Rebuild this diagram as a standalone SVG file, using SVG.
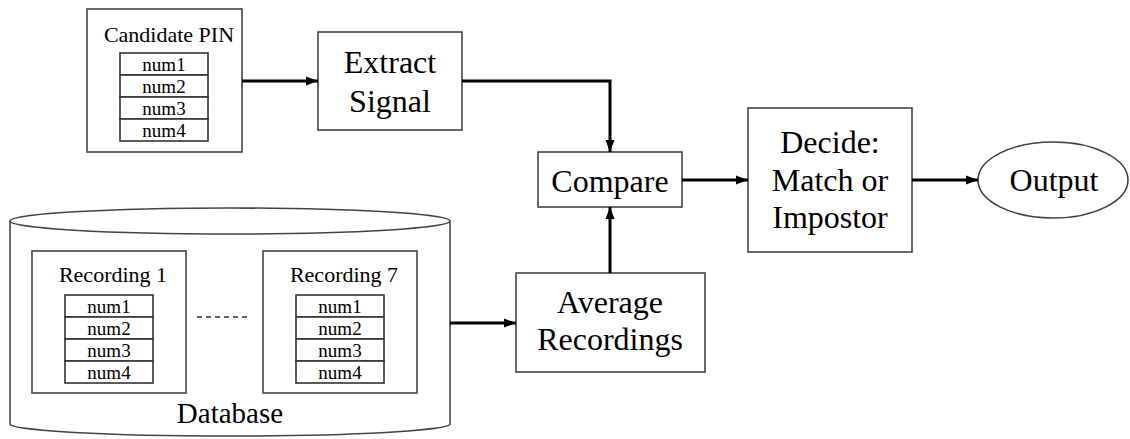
<svg xmlns="http://www.w3.org/2000/svg" width="1130" height="439" viewBox="0 0 1130 439">
<style>
.box{fill:#fff;stroke:#444;stroke-width:1.6}
.cell{fill:#fff;stroke:#333;stroke-width:1.6}
.t{font-family:"Liberation Serif","Times New Roman",serif;fill:#000;text-anchor:middle}
.big{font-size:32px}
.sm{font-size:22px}
.num{font-size:19px}
.conn{fill:none;stroke:#000;stroke-width:3}
</style>
<defs>
<marker id="ah" markerWidth="12" markerHeight="12" viewBox="0 0 12 12" refX="12" refY="6" orient="auto" markerUnits="userSpaceOnUse">
<path d="M0,1.5 L12,6 L0,10.5 Z" fill="#000"/>
</marker>
</defs>
<rect width="1130" height="439" fill="#fff"/>

<g id="candidate">
<rect class="box" x="87" y="9" width="155" height="143"/>
<text class="t sm" x="169" y="42">Candidate PIN</text>
<rect class="cell" x="120" y="53" width="88" height="22"/>
<rect class="cell" x="120" y="75" width="88" height="22"/>
<rect class="cell" x="120" y="97" width="88" height="22"/>
<rect class="cell" x="120" y="119" width="88" height="22"/>
<text class="t num" x="164" y="71">num1</text>
<text class="t num" x="164" y="93">num2</text>
<text class="t num" x="164" y="115">num3</text>
<text class="t num" x="164" y="137">num4</text>
</g>

<g id="extract">
<rect class="box" x="318" y="32" width="144" height="98"/>
<text class="t big" x="390" y="73">Extract</text>
<text class="t big" x="390" y="112">Signal</text>
</g>

<g id="compare">
<rect class="box" x="538" y="152" width="144" height="55"/>
<text class="t big" x="610" y="192">Compare</text>
</g>

<g id="decide">
<rect class="box" x="748" y="108" width="164" height="144"/>
<text class="t big" x="830" y="153">Decide:</text>
<text class="t big" x="830" y="191">Match or</text>
<text class="t big" x="830" y="228">Impostor</text>
</g>

<g id="output">
<ellipse class="box" cx="1053" cy="180" rx="75" ry="38"/>
<text class="t big" x="1054" y="191">Output</text>
</g>

<g id="database">
<path class="box" d="M10,221 L10,424 A220,12 0 0 0 450,424 L450,221"/>
<ellipse class="box" cx="230" cy="221" rx="220" ry="13"/>
<text class="t" style="font-size:29px" x="230" y="423">Database</text>
</g>

<g id="recording1">
<rect class="box" x="32" y="251" width="154" height="142"/>
<text class="t sm" x="113" y="282">Recording 1</text>
<rect class="cell" x="65" y="295" width="88" height="22"/>
<rect class="cell" x="65" y="317" width="88" height="22"/>
<rect class="cell" x="65" y="339" width="88" height="22"/>
<rect class="cell" x="65" y="361" width="88" height="22"/>
<text class="t num" x="109" y="313">num1</text>
<text class="t num" x="109" y="335">num2</text>
<text class="t num" x="109" y="357">num3</text>
<text class="t num" x="109" y="379">num4</text>
</g>

<g id="dots">
<line x1="197" y1="317" x2="251" y2="317" stroke="#333" stroke-width="1.5" stroke-dasharray="5,4"/>
</g>

<g id="recording7">
<rect class="box" x="263" y="251" width="154" height="142"/>
<text class="t sm" x="344" y="282">Recording 7</text>
<rect class="cell" x="296" y="295" width="88" height="22"/>
<rect class="cell" x="296" y="317" width="88" height="22"/>
<rect class="cell" x="296" y="339" width="88" height="22"/>
<rect class="cell" x="296" y="361" width="88" height="22"/>
<text class="t num" x="340" y="313">num1</text>
<text class="t num" x="340" y="335">num2</text>
<text class="t num" x="340" y="357">num3</text>
<text class="t num" x="340" y="379">num4</text>
</g>

<g id="average">
<rect class="box" x="516" y="273" width="189" height="99"/>
<text class="t big" x="610" y="313">Average</text>
<text class="t big" x="610" y="350">Recordings</text>
</g>

<g id="connectors">
<path class="conn" d="M242,81 L318,81" marker-end="url(#ah)"/>
<path class="conn" d="M462,81 L610,81 L610,152" marker-end="url(#ah)"/>
<path class="conn" d="M610,273 L610,207" marker-end="url(#ah)"/>
<path class="conn" d="M450,323 L516,323" marker-end="url(#ah)"/>
<path class="conn" d="M682,180 L748,180" marker-end="url(#ah)"/>
<path class="conn" d="M912,180 L978,180" marker-end="url(#ah)"/>
</g>
</svg>
